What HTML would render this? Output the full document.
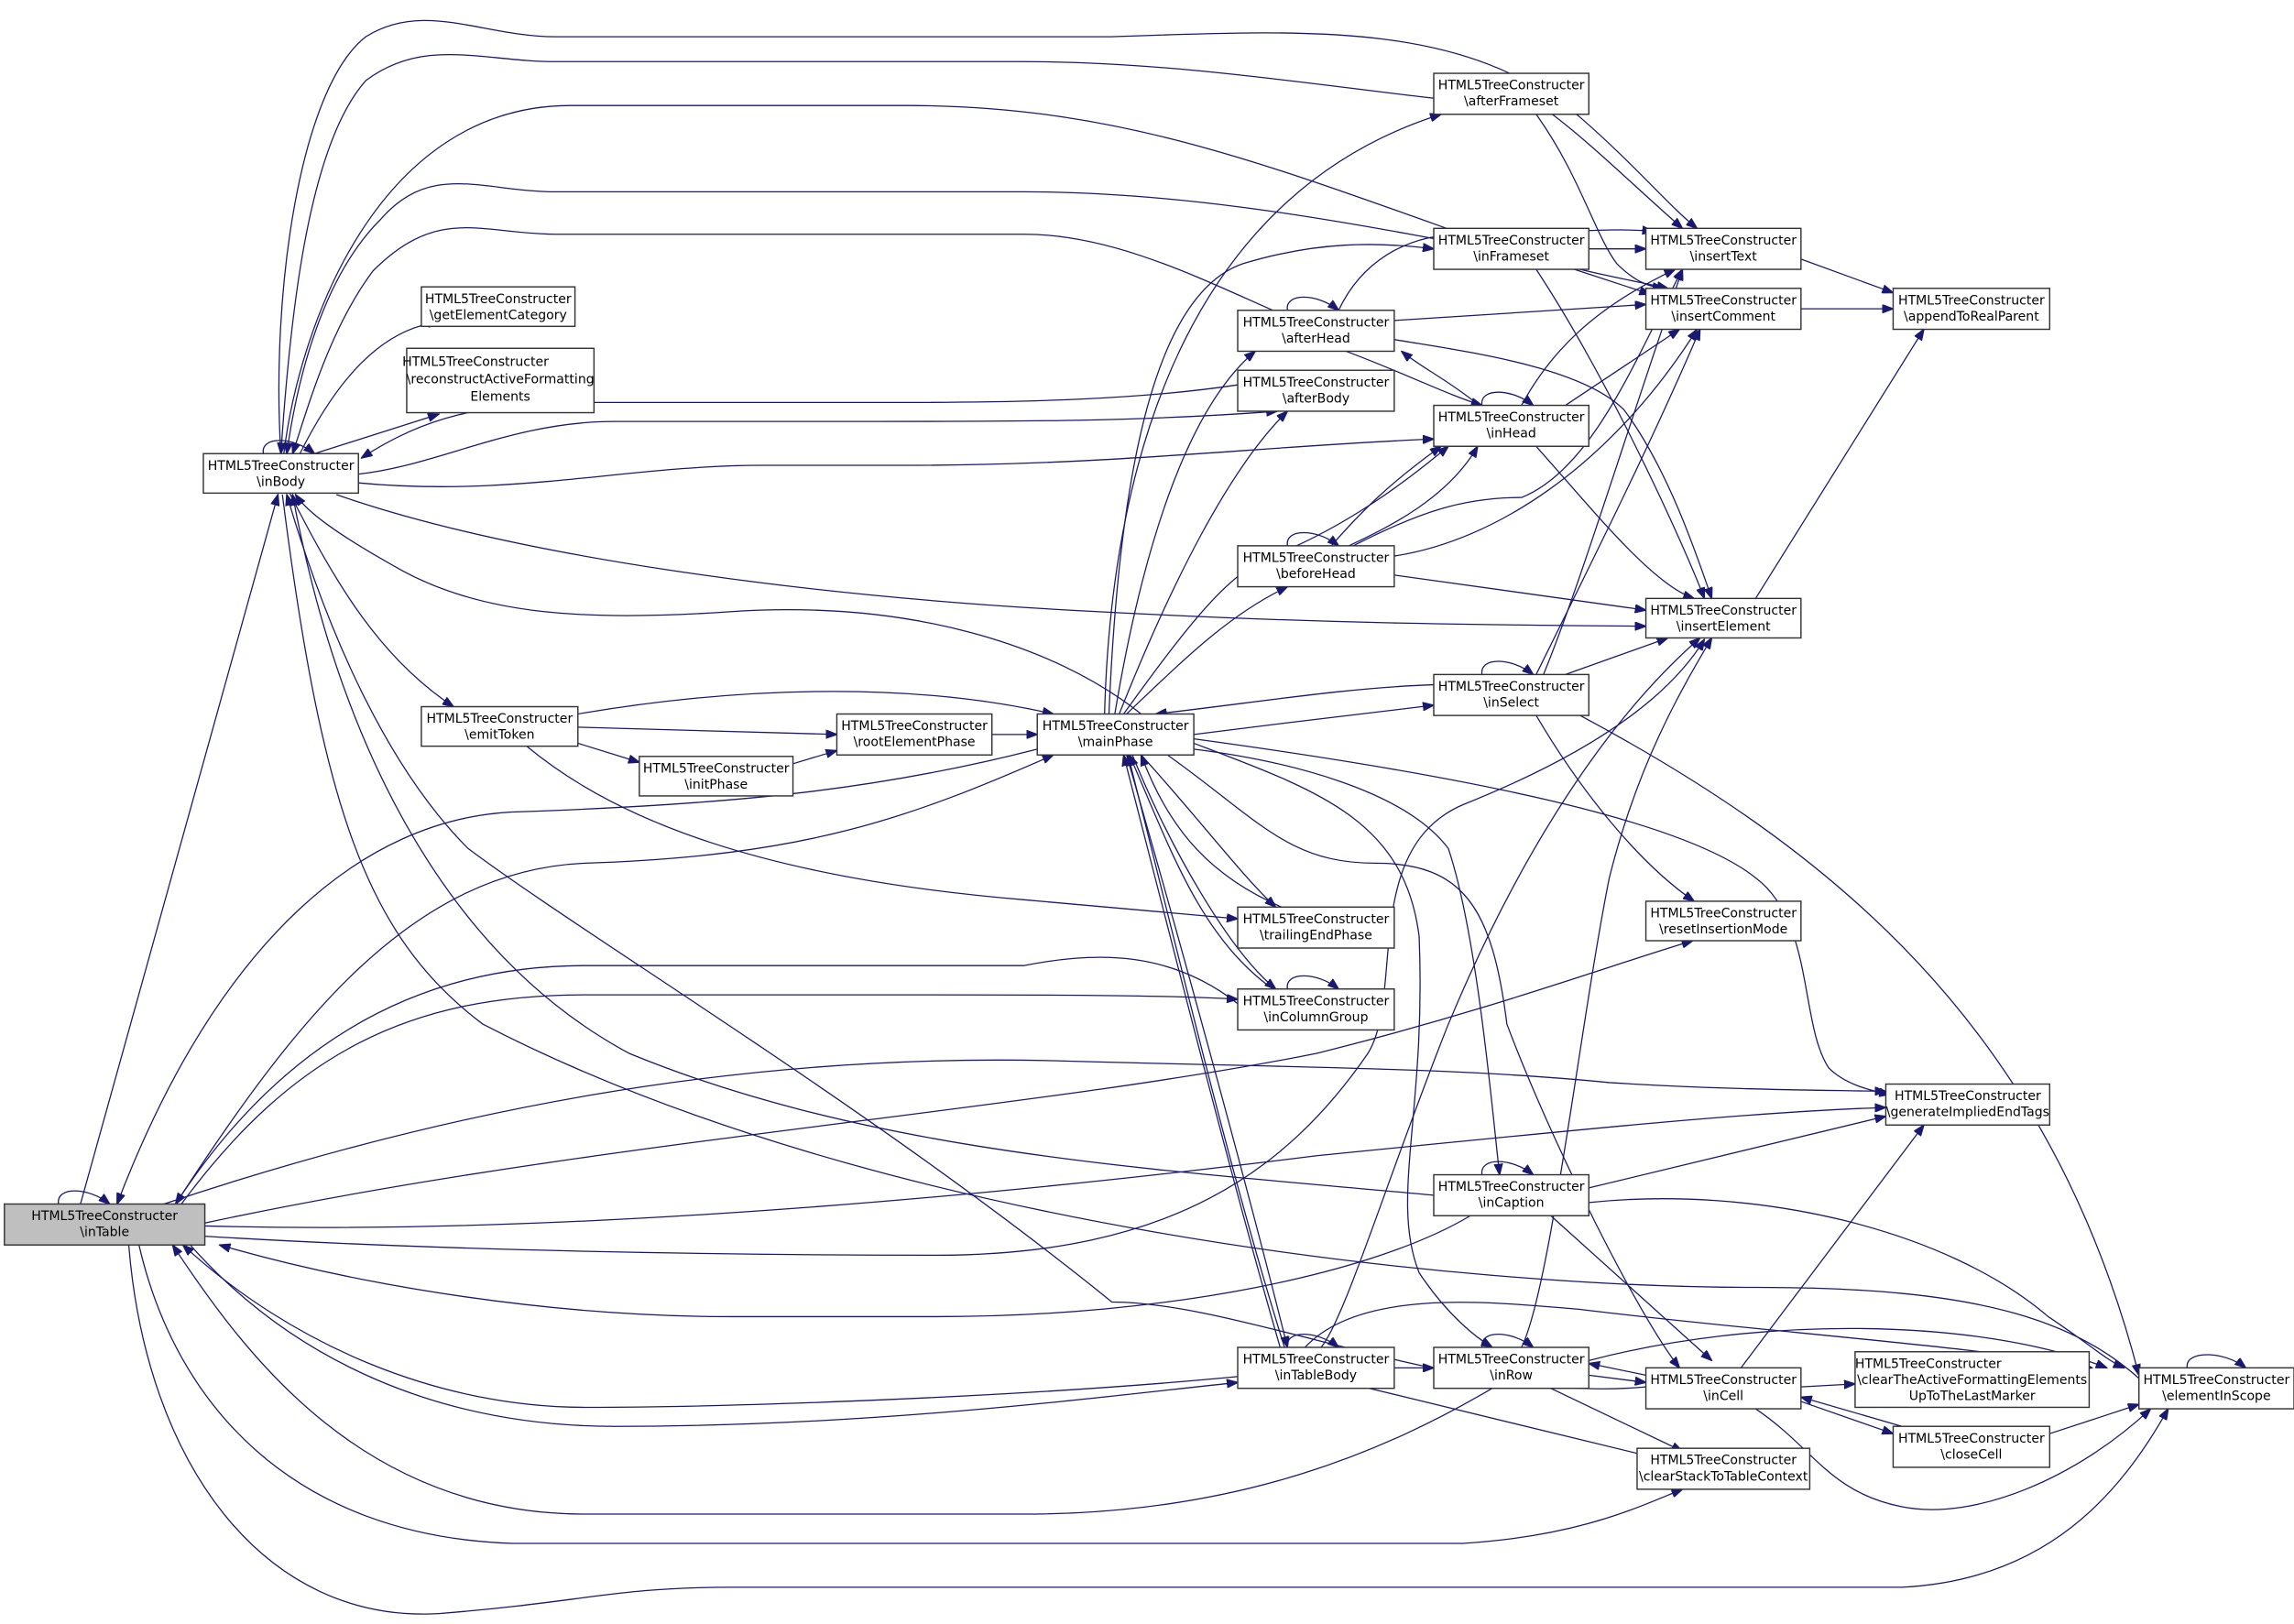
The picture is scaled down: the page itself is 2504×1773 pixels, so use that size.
<!DOCTYPE html>
<html><head><meta charset="utf-8"><style>
html,body{margin:0;padding:0;background:#fff;}
svg{display:block}
text{font-family:"DejaVu Sans","Liberation Sans",sans-serif;font-size:8.8px;fill:#000;text-anchor:middle}
.e{fill:none;stroke:#191970;stroke-width:0.8}
.n{fill:#fff;stroke:#333;stroke-width:0.9}
</style></head><body>
<svg width="2504" height="1773" viewBox="0 0 1568 1110" xmlns="http://www.w3.org/2000/svg">
<defs>
<marker id="a" markerWidth="8" markerHeight="6" refX="7.5" refY="3" orient="auto" markerUnits="userSpaceOnUse">
<path d="M0,0 L8,3 L0,6 z" fill="#191970" stroke="#191970" stroke-width="0.5"/></marker>
</defs>
<g class="e" marker-end="url(#a)">
<!-- inBody top curves -->
<path d="M192,310 C185,200 205,60 250,25 C290,0 330,25 380,25 L760,25 C900,20 1000,15 1080,80 C1120,115 1140,140 1160,156"/>
<path d="M980,67 C900,58 800,42 700,42 L380,42 C330,42 290,25 250,55 C210,100 198,220 192,310"/>
<path d="M194,310 C205,220 260,72 390,72 L620,72 C760,72 860,110 1000,160 C1070,185 1110,190 1140,197"/>
<path d="M980,163 C900,148 800,131 700,131 L380,131 C330,131 295,110 260,150 C220,190 203,260 196,310"/>
<path d="M870,212 C820,190 760,160 700,160 L380,160 C330,160 300,140 255,185 C225,225 210,280 200,310"/>
<path d="M205,310 C230,260 260,225 300,220"/>
<path d="M215,310 L300,283"/>
<path d="M846,263 C780,273 700,275 620,275 L400,275 C330,275 290,285 247,313"/>
<path d="M245,324 C300,318 350,288 420,288 L600,288 C700,288 780,288 873,281"/>
<path d="M245,330 C350,340 430,318 520,318 L620,318 C760,318 860,305 980,300"/>
<path d="M230,338 C350,380 550,408 750,418 C900,426 1000,427 1125,428"/>
<path d="M198,337 C230,400 260,450 310,483"/>
<path d="M780,488 C720,440 620,410 500,418 C400,425 330,420 275,390 C230,365 210,350 202,338"/>
<path d="M55,823 L190,338"/>
<path d="M980,817 C800,800 600,790 430,720 C300,650 230,500 200,338"/>
<path d="M1125,948 C1000,960 850,890 760,890 C600,760 400,640 320,580 C260,520 220,420 196,338"/>
<path d="M193,338 C220,550 250,640 330,700 C600,840 1000,880 1200,880 C1350,880 1430,900 1482,963"/>
<!-- emitToken etc -->
<path d="M395,488 C500,470 620,465 720,488"/>
<path d="M395,497 L572,502"/>
<path d="M395,508 L437,521"/>
<path d="M542,522 L572,513"/>
<path d="M678,502 L709,502"/>
<path d="M360,510 C420,560 520,600 700,615 C780,622 820,626 846,628"/>
<!-- mainPhase out -->
<path d="M755,488 C760,300 820,130 985,78"/>
<path d="M758,488 C765,320 790,200 850,180 C900,165 940,165 980,170"/>
<path d="M762,488 C780,380 810,280 858,240"/>
<path d="M765,488 C800,400 840,320 880,281"/>
<path d="M768,488 C810,430 840,390 870,380 C920,360 960,330 990,305"/>
<path d="M770,488 C810,450 840,420 880,401"/>
<path d="M816,502 C870,495 930,488 980,482"/>
<path d="M780,516 C820,560 850,600 872,620"/>
<path d="M774,516 C800,580 840,650 872,676"/>
<path d="M770,516 C800,620 850,800 880,921"/>
<path d="M816,512 C880,520 960,540 990,580 C1010,640 1020,760 1025,803"/>
<path d="M816,508 C900,540 960,560 970,640 C975,760 950,820 970,870 C990,900 1010,915 1020,921"/>
<path d="M798,516 C860,560 880,590 940,590 C1000,590 1020,620 1030,700 C1060,780 1120,900 1148,935"/>
<path d="M816,505 C1000,530 1150,560 1200,600 C1240,630 1230,700 1250,730 C1260,740 1275,745 1292,748"/>
<path d="M709,512 C600,540 500,550 350,555 C250,560 150,640 80,823"/>
<!-- reverse into mainPhase -->
<path d="M980,468 C920,470 860,480 790,488"/>
<path d="M876,620 C830,600 800,570 780,516"/>
<path d="M870,676 C820,640 800,580 772,516"/>
<path d="M875,921 C840,800 800,640 768,516"/>
<path d="M878,921 C840,800 805,650 771,516"/>
<path d="M120,823 C200,700 280,595 400,590 C550,585 620,560 720,516"/>
<!-- inTable <-> inColumnGroup etc -->
<path d="M846,686 C800,650 750,650 700,660 L400,660 C300,660 200,700 120,823"/>
<path d="M124,823 C200,720 280,680 400,680 L620,680 C700,680 800,680 846,683"/>
<path d="M112,823 C300,760 500,720 720,725 C900,730 1000,730 1100,740 C1180,745 1240,745 1289,746"/>
<path d="M140,836 C400,780 700,760 900,720 C1020,690 1100,660 1157,643"/>
<path d="M140,838 C400,845 700,815 900,790 C1100,770 1200,760 1289,757"/>
<path d="M140,845 C300,855 500,858 640,858 C800,858 880,800 935,720 C960,680 930,580 1000,550 C1100,510 1145,470 1165,437"/>
<path d="M1005,831 C940,870 800,900 640,900 L500,900 C380,900 250,880 150,851"/>
<path d="M846,941 C700,955 500,962 400,962 C300,962 200,920 125,851"/>
<path d="M130,851 C200,930 300,975 420,975 C600,975 750,955 846,945"/>
<path d="M1020,949 C950,990 850,1035 700,1035 L400,1035 C250,1035 170,930 118,851"/>
<path d="M95,851 C120,960 200,1050 350,1055 L1000,1055 C1080,1050 1120,1030 1150,1018"/>
<path d="M88,851 C100,1000 180,1110 300,1103 C400,1095 420,1085 500,1085 L1300,1085 C1400,1080 1450,1020 1482,963"/>
<path d="M980,963 C940,950 860,930 780,900 C740,890 200,900 112,851" marker-end="none" stroke="none"/>
<!-- right side -->
<path d="M1061,78 C1090,100 1120,130 1150,156"/>
<path d="M1050,78 C1080,120 1090,160 1105,180 C1120,195 1130,196 1137,197"/>
<path d="M1086,170 L1125,170"/>
<path d="M1076,184 L1128,201"/>
<path d="M1050,184 C1100,260 1150,370 1165,409"/>
<path d="M953,219 L1125,208"/>
<path d="M953,232 C1000,240 1080,250 1110,280 C1140,320 1160,380 1170,409"/>
<path d="M915,212 C930,180 960,160 1000,160 C1060,160 1100,155 1130,158"/>
<path d="M920,240 C960,255 990,270 1013,277"/>
<path d="M1011,277 C990,260 970,250 958,240"/>
<path d="M1040,277 C1060,240 1090,210 1145,184"/>
<path d="M1070,277 L1148,225"/>
<path d="M1050,305 C1090,350 1130,400 1158,409"/>
<path d="M910,373 C930,350 950,330 985,305"/>
<path d="M922,373 C950,360 990,340 1010,305"/>
<path d="M925,373 C970,350 1000,340 1040,340 C1090,320 1120,240 1150,184"/>
<path d="M953,380 C1020,370 1100,320 1160,225"/>
<path d="M953,393 L1125,417"/>
<path d="M1055,461 C1080,400 1110,300 1150,184"/>
<path d="M1050,461 C1090,380 1130,300 1162,225"/>
<path d="M1070,461 L1140,436"/>
<path d="M1050,489 C1080,540 1120,590 1158,616"/>
<path d="M1080,489 C1250,580 1400,700 1462,940"/>
<path d="M1231,177 L1294,200"/>
<path d="M1231,211 L1294,211"/>
<path d="M1200,409 L1315,225"/>
<!-- lower -->
<path d="M1086,812 L1289,763"/>
<path d="M1086,822 C1200,810 1330,840 1400,900 C1430,920 1440,930 1452,935"/>
<path d="M1060,831 L1170,930"/>
<path d="M953,935 L980,935"/>
<path d="M936,949 L1150,1001"/>
<path d="M892,921 C930,880 1020,890 1080,895 C1200,910 1350,920 1430,935"/>
<path d="M903,921 C920,900 950,800 990,700 C1040,580 1100,490 1162,436"/>
<path d="M1086,930 C1200,900 1350,900 1440,935"/>
<path d="M1086,940 L1125,945"/>
<path d="M1125,940 L1086,932"/>
<path d="M1060,949 L1150,992"/>
<path d="M1040,921 C1060,880 1080,700 1100,600 C1120,520 1150,470 1170,436"/>
<path d="M1231,948 L1268,946"/>
<path d="M1231,958 L1294,980"/>
<path d="M1300,975 L1231,955"/>
<path d="M1401,980 L1462,960"/>
<path d="M1190,935 L1315,769"/>
<path d="M1200,963 C1240,990 1250,1020 1300,1030 C1350,1040 1420,1010 1470,963"/>
<!-- self loops -->
<path d="M180,310 C178,298 200,298 215,310"/>
<path d="M40,823 C38,811 60,811 75,823"/>
<path d="M880,212 C878,200 900,200 915,212"/>
<path d="M1013,277 C1011,265 1033,265 1048,277"/>
<path d="M880,373 C878,361 900,361 915,373"/>
<path d="M1013,461 C1011,449 1033,449 1048,461"/>
<path d="M880,676 C878,664 900,664 915,676"/>
<path d="M1013,803 C1011,791 1033,791 1048,803"/>
<path d="M880,921 C878,909 900,909 915,921"/>
<path d="M1013,921 C1011,909 1033,909 1048,921"/>
<path d="M1495,935 C1493,923 1520,923 1535,935"/>
</g>
<!-- nodes -->
<g>
<rect class="n" x="139" y="310" width="106" height="27"/><text x="192" y="321">HTML5TreeConstructer</text><text x="192" y="332">\inBody</text>
<rect class="n" x="288" y="196" width="105" height="27"/><text x="340.5" y="207">HTML5TreeConstructer</text><text x="340.5" y="218">\getElementCategory</text>
<rect class="n" x="278" y="238" width="128" height="44"/><text x="325" y="250">HTML5TreeConstructer</text><text x="342" y="262">\reconstructActiveFormatting</text><text x="342" y="274">Elements</text>
<rect class="n" x="288" y="483" width="107" height="27"/><text x="341.5" y="494">HTML5TreeConstructer</text><text x="341.5" y="505">\emitToken</text>
<rect class="n" x="437" y="517" width="105" height="27"/><text x="489.5" y="528">HTML5TreeConstructer</text><text x="489.5" y="539">\initPhase</text>
<rect class="n" x="572" y="488" width="106" height="28"/><text x="625" y="499">HTML5TreeConstructer</text><text x="625" y="510">\rootElementPhase</text>
<rect class="n" x="709" y="488" width="107" height="28"/><text x="762.5" y="499">HTML5TreeConstructer</text><text x="762.5" y="510">\mainPhase</text>
<rect class="n" x="980" y="50" width="106" height="28"/><text x="1033" y="61">HTML5TreeConstructer</text><text x="1033" y="72">\afterFrameset</text>
<rect class="n" x="980" y="156" width="106" height="28"/><text x="1033" y="167">HTML5TreeConstructer</text><text x="1033" y="178">\inFrameset</text>
<rect class="n" x="846" y="212" width="107" height="28"/><text x="899.5" y="223">HTML5TreeConstructer</text><text x="899.5" y="234">\afterHead</text>
<rect class="n" x="846" y="253" width="107" height="28"/><text x="899.5" y="264">HTML5TreeConstructer</text><text x="899.5" y="275">\afterBody</text>
<rect class="n" x="980" y="277" width="106" height="28"/><text x="1033" y="288">HTML5TreeConstructer</text><text x="1033" y="299">\inHead</text>
<rect class="n" x="846" y="373" width="107" height="28"/><text x="899.5" y="384">HTML5TreeConstructer</text><text x="899.5" y="395">\beforeHead</text>
<rect class="n" x="980" y="461" width="106" height="28"/><text x="1033" y="472">HTML5TreeConstructer</text><text x="1033" y="483">\inSelect</text>
<rect class="n" x="1125" y="156" width="106" height="28"/><text x="1178" y="167">HTML5TreeConstructer</text><text x="1178" y="178">\insertText</text>
<rect class="n" x="1125" y="197" width="106" height="28"/><text x="1178" y="208">HTML5TreeConstructer</text><text x="1178" y="219">\insertComment</text>
<rect class="n" x="1294" y="197" width="107" height="28"/><text x="1347.5" y="208">HTML5TreeConstructer</text><text x="1347.5" y="219">\appendToRealParent</text>
<rect class="n" x="1125" y="409" width="106" height="27"/><text x="1178" y="420">HTML5TreeConstructer</text><text x="1178" y="431">\insertElement</text>
<rect class="n" x="846" y="620" width="107" height="28"/><text x="899.5" y="631">HTML5TreeConstructer</text><text x="899.5" y="642">\trailingEndPhase</text>
<rect class="n" x="846" y="676" width="107" height="28"/><text x="899.5" y="687">HTML5TreeConstructer</text><text x="899.5" y="698">\inColumnGroup</text>
<rect class="n" x="1125" y="616" width="106" height="27"/><text x="1178" y="627">HTML5TreeConstructer</text><text x="1178" y="638">\resetInsertionMode</text>
<rect class="n" x="1289" y="741" width="112" height="28"/><text x="1345" y="752">HTML5TreeConstructer</text><text x="1345" y="763">\generateImpliedEndTags</text>
<rect class="n" x="980" y="803" width="106" height="28"/><text x="1033" y="814">HTML5TreeConstructer</text><text x="1033" y="825">\inCaption</text>
<rect class="n" x="846" y="921" width="107" height="28"/><text x="899.5" y="932">HTML5TreeConstructer</text><text x="899.5" y="943">\inTableBody</text>
<rect class="n" x="980" y="921" width="106" height="28"/><text x="1033" y="932">HTML5TreeConstructer</text><text x="1033" y="943">\inRow</text>
<rect class="n" x="1125" y="935" width="106" height="28"/><text x="1178" y="946">HTML5TreeConstructer</text><text x="1178" y="957">\inCell</text>
<rect class="n" x="1268" y="924" width="160" height="38"/><text x="1318" y="935">HTML5TreeConstructer</text><text x="1348" y="946">\clearTheActiveFormattingElements</text><text x="1348" y="957">UpToTheLastMarker</text>
<rect class="n" x="1462" y="935" width="106" height="28"/><text x="1515" y="946">HTML5TreeConstructer</text><text x="1515" y="957">\elementInScope</text>
<rect class="n" x="1294" y="975" width="107" height="28"/><text x="1347.5" y="986">HTML5TreeConstructer</text><text x="1347.5" y="997">\closeCell</text>
<rect class="n" x="1119" y="990" width="118" height="28"/><text x="1178" y="1001">HTML5TreeConstructer</text><text x="1178" y="1012">\clearStackToTableContext</text>
<rect x="3" y="823" width="137" height="28" fill="#bfbfbf" stroke="#333" stroke-width="0.9"/><text x="71.5" y="834">HTML5TreeConstructer</text><text x="71.5" y="845">\inTable</text>
</g>
</svg>
</body></html>
